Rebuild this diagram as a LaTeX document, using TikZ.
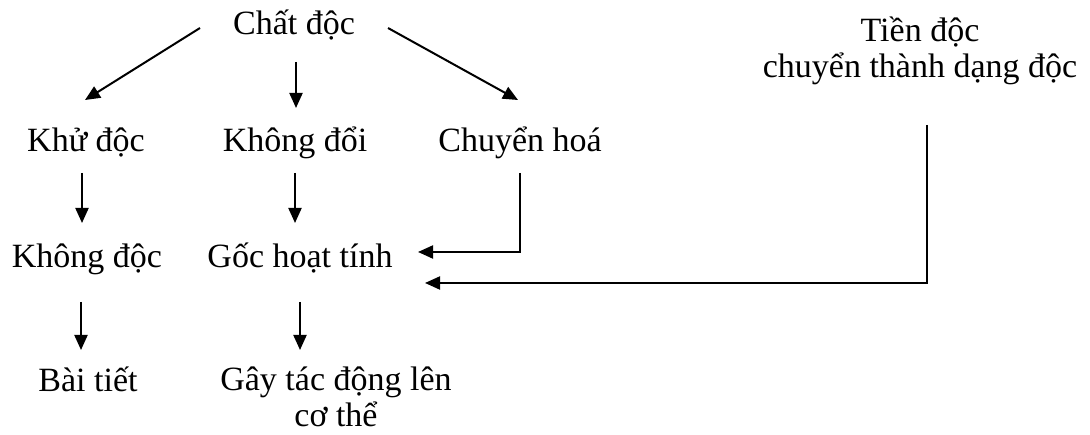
\documentclass[tikz,border=0pt]{standalone}
\usepackage{fontspec}
\setmainfont{Liberation Serif}
\usetikzlibrary{arrows.meta}
\begin{document}
\begin{tikzpicture}[x=1pt,y=-1pt,
  lbl/.style={anchor=base,inner sep=0pt,font=\fontsize{34}{36}\selectfont,align=center},
  arr/.style={-{Triangle[length=15pt,width=13pt]},line width=2pt}]
\useasboundingbox (0,0) rectangle (1090,435);
% texts (multi-line nodes: base = baseline of last line)
\node[lbl] (chat) at (294,35) {Chất độc};
\node[lbl] (tien) at (920,78) {Tiền độc\\chuyển thành dạng độc};
\node[lbl] (khu) at (86,152) {Khử độc};
\node[lbl] (khongdoi) at (295,152) {Không đổi};
\node[lbl] (chuyen) at (520,152) {Chuyển hoá};
\node[lbl] (khongdoc) at (87,268) {Không độc};
\node[lbl] (goc) at (300,268) {Gốc hoạt tính};
\node[lbl] (bai) at (88,392) {Bài tiết};
\node[lbl] (gay) at (336,427) {Gây tác động lên\\cơ thể};
% connector end points
\coordinate (c1a) at (200,28);  \coordinate (c1b) at (85,100);
\coordinate (c2a) at (296,62);  \coordinate (c2b) at (296,108);
\coordinate (c3a) at (388,28);  \coordinate (c3b) at (518,100);
\coordinate (c4a) at (82,173);  \coordinate (c4b) at (82,223);
\coordinate (c5a) at (295,173); \coordinate (c5b) at (295,223);
\coordinate (c6a) at (520,173); \coordinate (c6b) at (418,252);
\coordinate (c7a) at (927,125); \coordinate (c7b) at (425,283);
\coordinate (c8a) at (81,302);  \coordinate (c8b) at (81,350);
\coordinate (c9a) at (300,302); \coordinate (c9b) at (300,350);
% connectors
\draw[arr] (c1a) -- (c1b);
\draw[arr] (c2a) -- (c2b);
\draw[arr] (c3a) -- (c3b);
\draw[arr] (c4a) -- (c4b);
\draw[arr] (c5a) -- (c5b);
\draw[arr] (c6a) |- (c6b);
\draw[arr] (c7a) |- (c7b);
\draw[arr] (c8a) -- (c8b);
\draw[arr] (c9a) -- (c9b);
\end{tikzpicture}
\end{document}
